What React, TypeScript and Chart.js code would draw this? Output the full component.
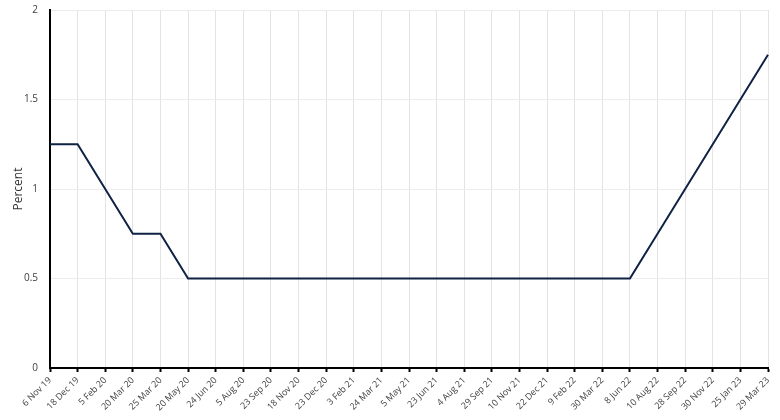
import React, { useEffect, useRef } from "react";
import { Chart, registerables } from "chart.js";

Chart.register(...registerables);

const dateLabels = [
  "6 Nov 19", "18 Dec 19", "5 Feb 20", "20 Mar 20", "25 Mar 20", "20 May 20",
  "24 Jun 20", "5 Aug 20", "23 Sep 20", "18 Nov 20", "23 Dec 20", "3 Feb 21",
  "24 Mar 21", "5 May 21", "23 Jun 21", "4 Aug 21", "29 Sep 21", "10 Nov 21",
  "22 Dec 21", "9 Feb 22", "30 Mar 22", "8 Jun 22", "10 Aug 22", "28 Sep 22",
  "30 Nov 22", "25 Jan 23", "29 Mar 23",
];

const rateValues = [
  1.25, 1.25, 1.0, 0.75, 0.75, 0.5,
  0.5, 0.5, 0.5, 0.5, 0.5, 0.5,
  0.5, 0.5, 0.5, 0.5, 0.5, 0.5,
  0.5, 0.5, 0.5, 0.5, 0.75, 1.0,
  1.25, 1.5, 1.75,
];

const yTickLabels = ["0", "0.5", "1", "1.5", "2"];

export default function App() {
  const ref = useRef<HTMLCanvasElement | null>(null);
  useEffect(() => {
    if (!ref.current) return;
    const chart = new Chart(ref.current, {
      type: "line",
      data: {
        labels: dateLabels,
        datasets: [
          {
            data: rateValues,
            borderColor: "#0f2244",
            borderWidth: 2,
            pointRadius: 0,
            tension: 0,
            fill: false,
          },
        ],
      },
      options: {
        animation: false,
        responsive: false,
        maintainAspectRatio: false,
        layout: { padding: { top: 10, right: 12, left: 0, bottom: 0 } },
        plugins: { legend: { display: false }, tooltip: { enabled: false } },
        scales: {
          x: {
            type: "category",
            offset: false,
            grid: {
              color: "#e3e3e3",
              lineWidth: 1,
              drawTicks: true,
              tickLength: 4,
              tickColor: "#000",
              tickWidth: 2,
            },
            border: { color: "#000", width: 2 },
            ticks: {
              autoSkip: false,
              minRotation: 45,
              maxRotation: 45,
              padding: 3,
              color: "#404040",
              font: { family: "Open Sans", size: 9 },
            },
            afterFit: (scale: any) => {
              scale.height = 52;
              scale.paddingTop = 0;
            },
          },
          y: {
            min: 0,
            max: 2,
            grid: { color: "#ececec", lineWidth: 1, drawTicks: false },
            border: { color: "#000", width: 2 },
            ticks: {
              stepSize: 0.5,
              padding: 12,
              color: "#404040",
              font: { family: "Open Sans", size: 10 },
              callback: (v: any) => {
                const idx = Math.round(Number(v) / 0.5);
                return yTickLabels[idx] ?? "";
              },
            },
            title: {
              display: true,
              text: "Percent",
              color: "#333",
              font: { family: "Open Sans", size: 12 },
              padding: { top: 11, bottom: 0 },
            },
            afterFit: (scale: any) => {
              scale.width = 50;
              scale.paddingTop = 0;
            },
          },
        },
      },
    });
    return () => chart.destroy();
  }, []);
  return (
    <div style={{ position: "fixed", left: 0, top: 0, width: 780, height: 420, background: "#fff" }}>
      <canvas ref={ref} width={780} height={420} style={{ width: 780, height: 420 }} />
    </div>
  );
}
